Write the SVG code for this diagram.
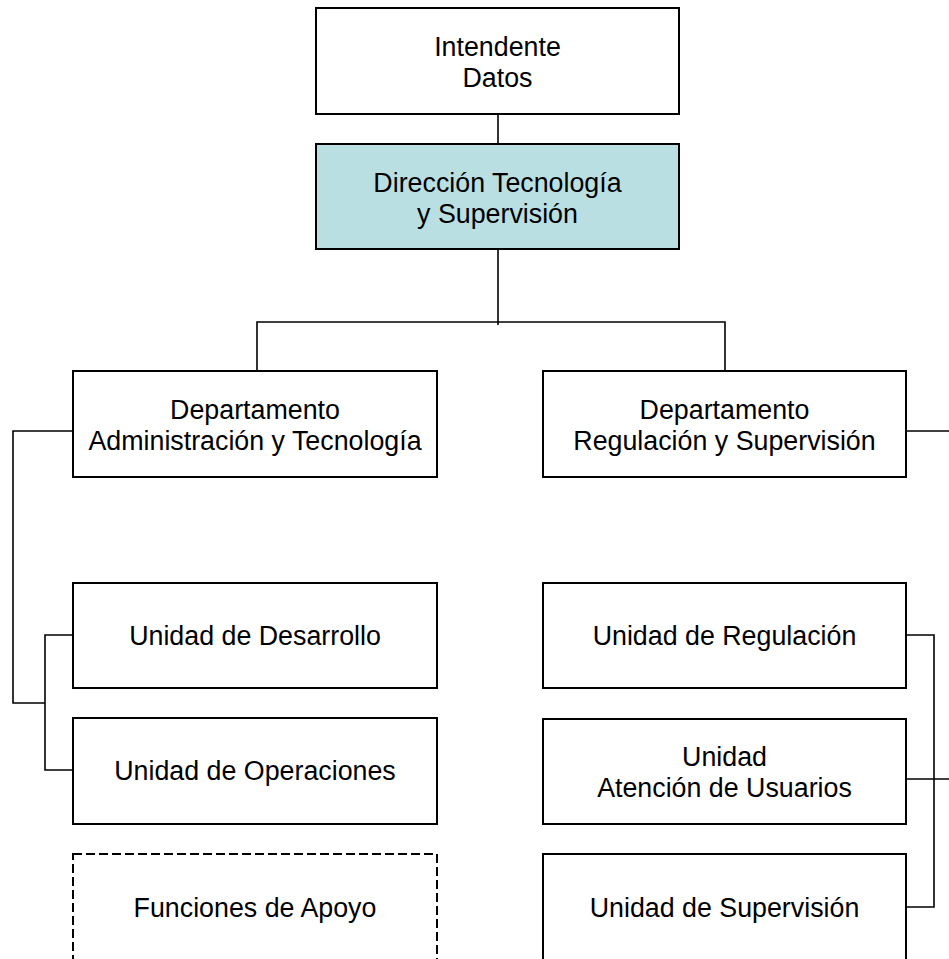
<svg xmlns="http://www.w3.org/2000/svg" width="949" height="959" viewBox="0 0 949 959">
<style>
.box{fill:#fff;stroke:#000;stroke-width:2}
.dir{fill:#BADFE2;stroke:#000;stroke-width:2}
.dash{fill:#fff;stroke:#000;stroke-width:2;stroke-dasharray:9 4}
.ln{fill:none;stroke:#000;stroke-width:1.6}
text{font-family:"Liberation Sans",Arial,sans-serif;font-size:26.8px;fill:#000;text-anchor:middle}
</style>
<rect width="949" height="959" fill="#fff"/>
<g id="connectors">
<path class="ln" d="M498,114 V144"/>
<path class="ln" d="M498,249 V325"/>
<path class="ln" d="M257,371 V322 H725 V371"/>
<path class="ln" d="M73,431 H13 V703 H45"/>
<path class="ln" d="M73,635 H45 V770 H73"/>
<path class="ln" d="M906,431 H949"/>
<path class="ln" d="M906,635 H934 V907 H906"/>
<path class="ln" d="M906,779 H949"/>
</g>
<g id="intendente"><rect class="box" x="316" y="8" width="363" height="106"/><text x="497.5" y="56">Intendente</text><text x="497.5" y="87">Datos</text></g>
<g id="direccion"><rect class="dir" x="316" y="144" width="363" height="105"/><text x="497.5" y="192">Dirección Tecnología</text><text x="497.5" y="223">y Supervisión</text></g>
<g id="dept-admin"><rect class="box" x="73" y="371" width="364" height="106"/><text x="255" y="419">Departamento</text><text x="255" y="450">Administración y Tecnología</text></g>
<g id="dept-reg"><rect class="box" x="543" y="371" width="363" height="106"/><text x="724.5" y="419">Departamento</text><text x="724.5" y="450">Regulación y Supervisión</text></g>
<g id="u-desarrollo"><rect class="box" x="73" y="583" width="364" height="105"/><text x="255" y="645">Unidad de Desarrollo</text></g>
<g id="u-operaciones"><rect class="box" x="73" y="718" width="364" height="106"/><text x="255" y="780">Unidad de Operaciones</text></g>
<g id="funciones-apoyo"><rect class="dash" x="73" y="854" width="364" height="120"/><text x="255" y="917">Funciones de Apoyo</text></g>
<g id="u-regulacion"><rect class="box" x="543" y="583" width="363" height="105"/><text x="724.5" y="645">Unidad de Regulación</text></g>
<g id="u-atencion"><rect class="box" x="543" y="719" width="363" height="105"/><text x="724.5" y="766">Unidad</text><text x="724.5" y="797">Atención de Usuarios</text></g>
<g id="u-supervision"><rect class="box" x="543" y="854" width="363" height="120"/><text x="724.5" y="917">Unidad de Supervisión</text></g>
</svg>
